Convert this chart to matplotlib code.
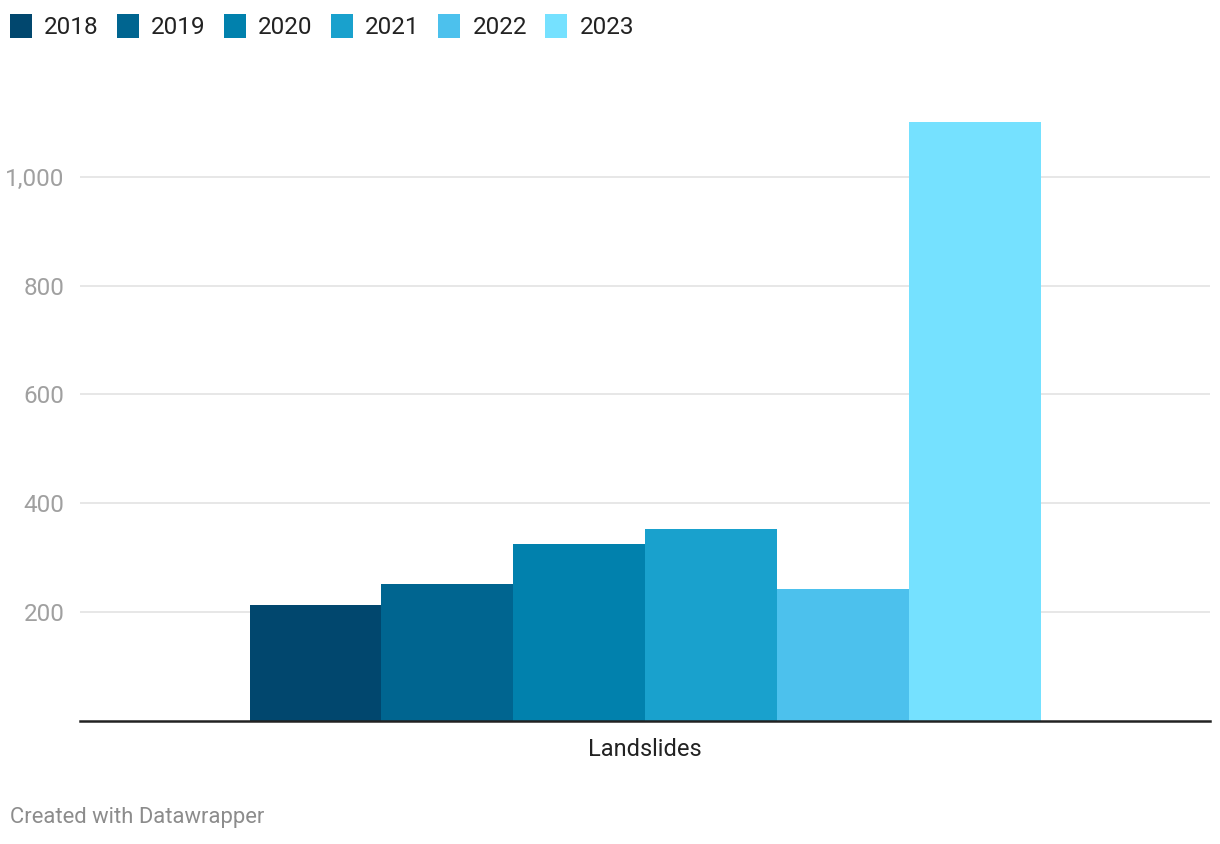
import numpy as np
import matplotlib
matplotlib.use("Agg")
import matplotlib.pyplot as plt
from matplotlib.patches import Patch

plt.rcParams['font.family'] = ['Roboto', 'DejaVu Sans']

# Data
category = "Landslides"
years = ["2018", "2019", "2020", "2021", "2022", "2023"]
values = [213, 252, 325, 353, 243, 1101]
colors = ["#01476e", "#006590", "#0181ad", "#19a1cd", "#4cc1ed", "#75e1ff"]

fig = plt.figure(figsize=(12.2, 8.44), dpi=100)
ax = fig.add_axes([80 / 1220, 1 - 721 / 844, 1130 / 1220, 626 / 844])

group_width = 0.7
w = group_width / len(years)
for i, (yr, v, c) in enumerate(zip(years, values, colors)):
    ax.bar((i - (len(years) - 1) / 2) * w, v, width=w, color=c, label=yr, zorder=3)

ax.set_xlim(-0.5, 0.5)
ax.set_ylim(0, 1150)
ax.set_yticks([200, 400, 600, 800, 1000])
ax.set_yticklabels(["200", "400", "600", "800", "1,000"])
ax.set_xticks([0])
ax.set_xticklabels([category])

ax.grid(axis='y', color='#e3e3e3', linewidth=1.2, zorder=0)
for s in ['top', 'right', 'left']:
    ax.spines[s].set_visible(False)
ax.spines['bottom'].set_color('#222222')
ax.spines['bottom'].set_linewidth(1.8)
ax.spines['bottom'].set_zorder(4)
ax.tick_params(axis='y', length=0, pad=11, labelsize=17.5, labelcolor='#a0a0a0')
ax.tick_params(axis='x', length=0, pad=12, labelsize=17, labelcolor='#222222')

handles = [Patch(facecolor=c, edgecolor='none') for c in colors]
fig.legend(handles, years, loc='upper left', bbox_to_anchor=(10 / 1220, 1 - 14 / 844),
           ncol=6, frameon=False, fontsize=17.5, handlelength=0.9, handleheight=1.15,
           handletextpad=0.5, columnspacing=0.76, borderpad=0, borderaxespad=0,
           labelcolor='#222222')

fig.text(10 / 1220, 1 - 818 / 844, "Created with Datawrapper", fontsize=15.8,
         color='#8c8c8c', va='center', ha='left')

fig.savefig("out.png", dpi=100)
